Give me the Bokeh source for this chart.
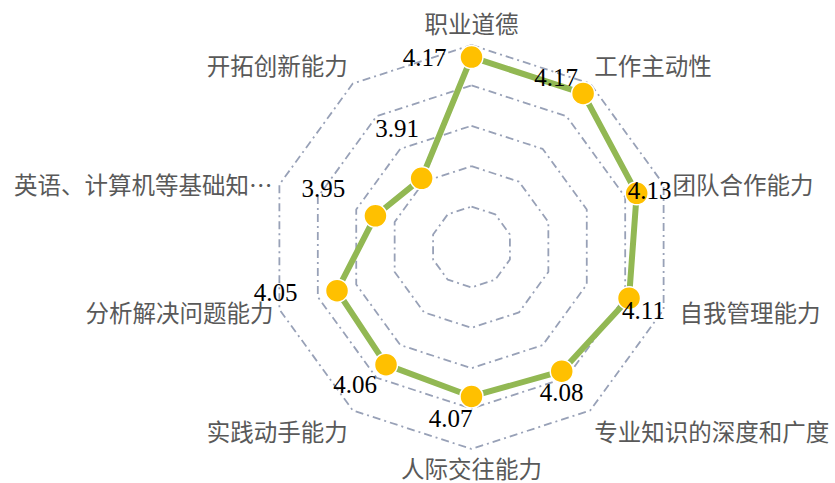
import numpy as np
from bokeh.plotting import figure
from bokeh.models import Range1d, ColumnDataSource
from bokeh.core.properties import value
from bokeh.embed import file_html
from bokeh.resources import INLINE

# ---- data ----
categories = ["职业道德", "工作主动性", "团队合作能力", "自我管理能力", "专业知识的深度和广度",
              "人际交往能力", "实践动手能力", "分析解决问题能力", "英语、计算机等基础知…", "开拓创新能力"]
scores = [4.17, 4.17, 4.13, 4.11, 4.08, 4.07, 4.06, 4.05, 3.95, 3.91]
ring_levels = [3.8, 3.9, 4.0, 4.1, 4.2]
r_min, r_max = 3.7, 4.2

# ---- style / layout ----
R = 202.0  # pixel radius of r_max
cat_align = ["center", "left", "left", "left", "left", "center", "right", "right", "right", "right"]
cat_dx = [0, 4, 9, 16, 4, 0, -5, -6, -7, -5]
cat_dy = [-22.5, -19, -1, 3, 21, 18.5, 21, 3, -1, -19]
num_dx = [-47, -27, 13, 14.5, 0, -21, -31, -61.5, -52, -24.5]
num_dy = [0, -16, -3, 12.5, 21, 22, 20, 2, -27, -50]

n = len(categories)
ang = np.arange(n) * 2 * np.pi / n


def rad(v):
    return (np.asarray(v, dtype=float) - r_min) / (r_max - r_min) * R


p = figure(width=835, height=483, output_backend="svg", toolbar_location=None,
           x_range=Range1d(-471, 364), y_range=Range1d(-236.5, 246.5), min_border=0)
p.axis.visible = False
p.grid.visible = False
p.outline_line_color = None
p.background_fill_color = "white"

# rings
xs, ys = [], []
for lv in ring_levels:
    r = rad(lv)
    a = np.append(ang, ang[0])
    xs.append(list(r * np.sin(a)))
    ys.append(list(r * np.cos(a)))
p.multi_line(xs, ys, line_color="#98A1B7", line_width=1.8, line_dash="8 4 2 4")

# series
rr = rad(scores)
px = rr * np.sin(ang)
py = rr * np.cos(ang)
p.line(list(np.append(px, px[0])), list(np.append(py, py[0])), line_color="#92B853", line_width=6)
p.scatter(px, py, size=23, fill_color="#FFC000", line_color="white", line_width=1.5)

# value labels
src = ColumnDataSource(dict(x=px, y=py, t=[f"{s:.2f}" for s in scores], dx=num_dx, dy=num_dy))
p.text(x="x", y="y", text="t", x_offset="dx", y_offset="dy", source=src,
       text_font=value("Liberation Serif"), text_font_size="25px", text_color="black",
       text_align="center", text_baseline="middle")

# category labels
ox = R * np.sin(ang)
oy = R * np.cos(ang)
csrc = ColumnDataSource(dict(x=ox, y=oy, t=categories, dx=cat_dx, dy=cat_dy, al=cat_align))
p.text(x="x", y="y", text="t", x_offset="dx", y_offset="dy", text_align="al", source=csrc,
       text_font=value("Noto Sans CJK SC"), text_font_size="23.5px", text_color="#595959",
       text_baseline="middle")

open("out.html", "w").write(file_html(p, INLINE))
